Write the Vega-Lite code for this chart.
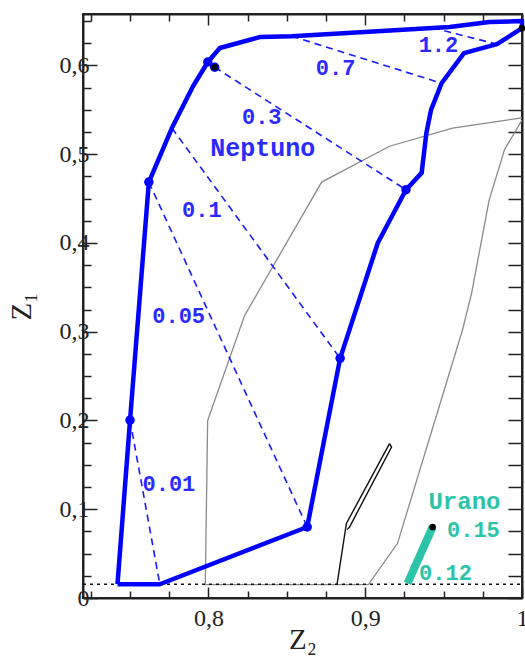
{
  "$schema": "https://vega.github.io/schema/vega-lite/v6.json",
  "width": 439,
  "height": 584,
  "autosize": "none",
  "padding": {"left": 83, "top": 14, "right": 3, "bottom": 59},
  "background": "white",
  "config": {
    "view": {"stroke": "#222", "strokeWidth": 2},
    "axis": {"grid": false, "domainColor": "#222", "domainWidth": 2, "tickColor": "#222", "tickWidth": 1.5,
      "labelFont": "Liberation Serif", "labelFontSize": 24, "labelColor": "#222",
      "titleFont": "Liberation Serif", "titleFontSize": 29, "titleFontWeight": "normal", "titleColor": "#222"}
  },
  "datasets": {
    "nep": [
      {"o": 1, "z2": 0.742, "z1": 0.0155}, {"o": 2, "z2": 0.769, "z1": 0.0155},
      {"o": 3, "z2": 0.863, "z1": 0.080}, {"o": 4, "z2": 0.884, "z1": 0.270},
      {"o": 5, "z2": 0.908, "z1": 0.400}, {"o": 6, "z2": 0.926, "z1": 0.460},
      {"o": 7, "z2": 0.936, "z1": 0.479}, {"o": 8, "z2": 0.939, "z1": 0.524},
      {"o": 9, "z2": 0.942, "z1": 0.550}, {"o": 10, "z2": 0.9487, "z1": 0.580},
      {"o": 11, "z2": 0.963, "z1": 0.614}, {"o": 12, "z2": 0.984, "z1": 0.624},
      {"o": 13, "z2": 1.0, "z1": 0.642}, {"o": 14, "z2": 1.0, "z1": 0.650},
      {"o": 15, "z2": 0.9792, "z1": 0.649}, {"o": 16, "z2": 0.9538, "z1": 0.6434},
      {"o": 17, "z2": 0.8996, "z1": 0.6378}, {"o": 18, "z2": 0.8531, "z1": 0.633},
      {"o": 19, "z2": 0.8327, "z1": 0.632}, {"o": 20, "z2": 0.8073, "z1": 0.6197},
      {"o": 21, "z2": 0.7996, "z1": 0.6039}, {"o": 22, "z2": 0.790, "z1": 0.576},
      {"o": 23, "z2": 0.7767, "z1": 0.5295}, {"o": 24, "z2": 0.762, "z1": 0.4686},
      {"o": 25, "z2": 0.750, "z1": 0.2003}, {"o": 26, "z2": 0.742, "z1": 0.0155}
    ],
    "dash": [
      {"g": "0.01", "o": 1, "z2": 0.750, "z1": 0.2003}, {"g": "0.01", "o": 2, "z2": 0.769, "z1": 0.0155},
      {"g": "0.05", "o": 1, "z2": 0.762, "z1": 0.4686}, {"g": "0.05", "o": 2, "z2": 0.863, "z1": 0.080},
      {"g": "0.1", "o": 1, "z2": 0.7767, "z1": 0.5295}, {"g": "0.1", "o": 2, "z2": 0.884, "z1": 0.270},
      {"g": "0.3", "o": 1, "z2": 0.804, "z1": 0.598}, {"g": "0.3", "o": 2, "z2": 0.926, "z1": 0.460},
      {"g": "0.7", "o": 1, "z2": 0.8531, "z1": 0.633}, {"g": "0.7", "o": 2, "z2": 0.9487, "z1": 0.580},
      {"g": "1.2", "o": 1, "z2": 0.943, "z1": 0.6425}, {"g": "1.2", "o": 2, "z2": 0.984, "z1": 0.624}
    ],
    "gray": [
      {"o": 1, "z2": 1.0, "z1": 0.541}, {"o": 2, "z2": 0.9557, "z1": 0.5295},
      {"o": 3, "z2": 0.9155, "z1": 0.509}, {"o": 4, "z2": 0.8722, "z1": 0.4686},
      {"o": 5, "z2": 0.823, "z1": 0.318}, {"o": 6, "z2": 0.7995, "z1": 0.200},
      {"o": 7, "z2": 0.798, "z1": 0.015}, {"o": 8, "z2": 0.902, "z1": 0.015},
      {"o": 9, "z2": 0.9206, "z1": 0.0616}, {"o": 10, "z2": 0.962, "z1": 0.3017},
      {"o": 11, "z2": 0.9678, "z1": 0.343}, {"o": 12, "z2": 0.979, "z1": 0.448},
      {"o": 13, "z2": 0.9888, "z1": 0.505}, {"o": 14, "z2": 1.0, "z1": 0.5385}
    ],
    "black": [
      {"g": "a", "o": 1, "z2": 0.882, "z1": 0.015}, {"g": "a", "o": 2, "z2": 0.888, "z1": 0.084},
      {"g": "a", "o": 3, "z2": 0.9155, "z1": 0.174},
      {"g": "b", "o": 1, "z2": 0.8885, "z1": 0.077}, {"g": "b", "o": 2, "z2": 0.890, "z1": 0.080},
      {"g": "b", "o": 3, "z2": 0.9168, "z1": 0.170}, {"g": "b", "o": 4, "z2": 0.9155, "z1": 0.174}
    ],
    "urano": [
      {"o": 1, "z2": 0.927, "z1": 0.0166}, {"o": 2, "z2": 0.943, "z1": 0.080}
    ],
    "dotted": [
      {"z2": 0.72, "z1": 0.0155}, {"z2": 1.0, "z1": 0.0155}
    ],
    "bluedots": [
      {"z2": 0.750, "z1": 0.2003}, {"z2": 0.762, "z1": 0.4686}, {"z2": 0.7996, "z1": 0.6039},
      {"z2": 0.863, "z1": 0.080}, {"z2": 0.884, "z1": 0.270}, {"z2": 0.926, "z1": 0.460},
      {"z2": 0.804, "z1": 0.598}
    ],
    "blackdots": [
      {"z2": 0.804, "z1": 0.598}, {"z2": 1.0, "z1": 0.642}, {"z2": 0.943, "z1": 0.080}
    ],
    "bluelabels": [
      {"t": "1.2", "z2": 0.9467, "z1": 0.623, "s": 22},
      {"t": "0.7", "z2": 0.8811, "z1": 0.597, "s": 22},
      {"t": "0.3", "z2": 0.834, "z1": 0.542, "s": 22},
      {"t": "Neptuno", "z2": 0.8346, "z1": 0.507, "s": 25},
      {"t": "0.1", "z2": 0.7958, "z1": 0.437, "s": 22},
      {"t": "0.05", "z2": 0.781, "z1": 0.3175, "s": 22},
      {"t": "0.01", "z2": 0.7748, "z1": 0.129, "s": 22}
    ],
    "teallabels": [
      {"t": "Urano", "z2": 0.9633, "z1": 0.108, "s": 24},
      {"t": "0.15", "z2": 0.969, "z1": 0.0763, "s": 22},
      {"t": "0.12", "z2": 0.9512, "z1": 0.0279, "s": 22}
    ]
  },
  "resolve": {"axis": {"x": "independent", "y": "independent"}},
  "layer": [
    {
      "data": {"name": "gray"},
      "mark": {"type": "line", "color": "#8a8a8a", "strokeWidth": 1.3},
      "encoding": {
        "x": {"field": "z2", "type": "quantitative", "scale": {"domain": [0.72, 1.0], "nice": false, "zero": false},
          "axis": {"orient": "bottom", "title": "Z₂", "values": [0.725, 0.75, 0.775, 0.8, 0.825, 0.85, 0.875, 0.9, 0.925, 0.95, 0.975, 1.0],
            "labelExpr": "abs(datum.value*10 - round(datum.value*10)) < 0.001 ? (datum.value == 1 ? '1' : replace(format(datum.value, '.1f'), '.', ',')) : ''",
            "tickSize": {"condition": {"test": "abs(datum.value*10 - round(datum.value*10)) < 0.001", "value": -11}, "value": -7},
            "labelPadding": 19, "titlePadding": -9, "labelFlush": false, "labelOverlap": false}},
        "y": {"field": "z1", "type": "quantitative", "scale": {"domain": [0, 0.658], "nice": false, "zero": false},
          "axis": {"orient": "left", "title": "Z₁", "values": [0, 0.025, 0.05, 0.075, 0.1, 0.125, 0.15, 0.175, 0.2, 0.225, 0.25, 0.275, 0.3, 0.325, 0.35, 0.375, 0.4, 0.425, 0.45, 0.475, 0.5, 0.525, 0.55, 0.575, 0.6, 0.625, 0.65],
            "labelExpr": "abs(datum.value*10 - round(datum.value*10)) < 0.001 ? (datum.value == 0 ? '0' : replace(format(datum.value, '.1f'), '.', ',')) : ''",
            "tickSize": {"condition": {"test": "abs(datum.value*10 - round(datum.value*10)) < 0.001", "value": -14}, "value": -8},
            "labelPadding": 8, "titlePadding": 23, "labelFlush": false, "labelOverlap": false}},
        "order": {"field": "o", "type": "quantitative"}
      }
    },
    {
      "data": {"name": "dotted"},
      "mark": {"type": "line", "color": "#111", "strokeWidth": 1.5, "strokeDash": [3, 4]},
      "encoding": {
        "x": {"field": "z2", "type": "quantitative",
          "axis": {"orient": "top", "title": null, "labels": false, "values": [0.725, 0.75, 0.775, 0.8, 0.825, 0.85, 0.875, 0.9, 0.925, 0.95, 0.975, 1.0],
            "tickSize": {"condition": {"test": "abs(datum.value*10 - round(datum.value*10)) < 0.001", "value": -11}, "value": -7}}},
        "y": {"field": "z1", "type": "quantitative",
          "axis": {"orient": "right", "title": null, "labels": false, "values": [0, 0.025, 0.05, 0.075, 0.1, 0.125, 0.15, 0.175, 0.2, 0.225, 0.25, 0.275, 0.3, 0.325, 0.35, 0.375, 0.4, 0.425, 0.45, 0.475, 0.5, 0.525, 0.55, 0.575, 0.6, 0.625, 0.65],
            "tickSize": -14}}
      }
    },
    {
      "data": {"name": "black"},
      "mark": {"type": "line", "color": "#111", "strokeWidth": 1.4},
      "encoding": {
        "x": {"field": "z2", "type": "quantitative", "axis": null},
        "y": {"field": "z1", "type": "quantitative", "axis": null},
        "detail": {"field": "g"},
        "order": {"field": "o", "type": "quantitative"}
      }
    },
    {
      "data": {"name": "dash"},
      "mark": {"type": "line", "color": "#1a1aff", "strokeWidth": 1.6, "strokeDash": [7, 5]},
      "encoding": {
        "x": {"field": "z2", "type": "quantitative", "axis": null},
        "y": {"field": "z1", "type": "quantitative", "axis": null},
        "detail": {"field": "g"},
        "order": {"field": "o", "type": "quantitative"}
      }
    },
    {
      "data": {"name": "nep"},
      "mark": {"type": "line", "color": "#0000ff", "strokeWidth": 4.5, "strokeJoin": "round"},
      "encoding": {
        "x": {"field": "z2", "type": "quantitative", "axis": null},
        "y": {"field": "z1", "type": "quantitative", "axis": null},
        "order": {"field": "o", "type": "quantitative"}
      }
    },
    {
      "data": {"name": "urano"},
      "mark": {"type": "line", "color": "#2cc4a8", "strokeWidth": 8, "strokeCap": "butt"},
      "encoding": {
        "x": {"field": "z2", "type": "quantitative", "axis": null},
        "y": {"field": "z1", "type": "quantitative", "axis": null},
        "order": {"field": "o", "type": "quantitative"}
      }
    },
    {
      "data": {"name": "bluedots"},
      "mark": {"type": "point", "shape": "circle", "filled": true, "color": "#0000ff", "size": 90, "opacity": 1},
      "encoding": {
        "x": {"field": "z2", "type": "quantitative", "axis": null},
        "y": {"field": "z1", "type": "quantitative", "axis": null}
      }
    },
    {
      "data": {"name": "blackdots"},
      "mark": {"type": "point", "shape": "circle", "filled": true, "color": "#000", "size": 45, "opacity": 1},
      "encoding": {
        "x": {"field": "z2", "type": "quantitative", "axis": null},
        "y": {"field": "z1", "type": "quantitative", "axis": null}
      }
    },
    {
      "data": {"name": "bluelabels"},
      "mark": {"type": "text", "font": "Liberation Mono", "fontWeight": "bold", "color": "#2a2aff", "align": "center", "baseline": "middle"},
      "encoding": {
        "x": {"field": "z2", "type": "quantitative", "axis": null},
        "y": {"field": "z1", "type": "quantitative", "axis": null},
        "text": {"field": "t"},
        "size": {"field": "s", "type": "quantitative", "scale": null}
      }
    },
    {
      "data": {"name": "teallabels"},
      "mark": {"type": "text", "font": "Liberation Mono", "fontWeight": "bold", "color": "#2cc4a8", "align": "center", "baseline": "middle"},
      "encoding": {
        "x": {"field": "z2", "type": "quantitative", "axis": null},
        "y": {"field": "z1", "type": "quantitative", "axis": null},
        "text": {"field": "t"},
        "size": {"field": "s", "type": "quantitative", "scale": null}
      }
    }
  ]
}
